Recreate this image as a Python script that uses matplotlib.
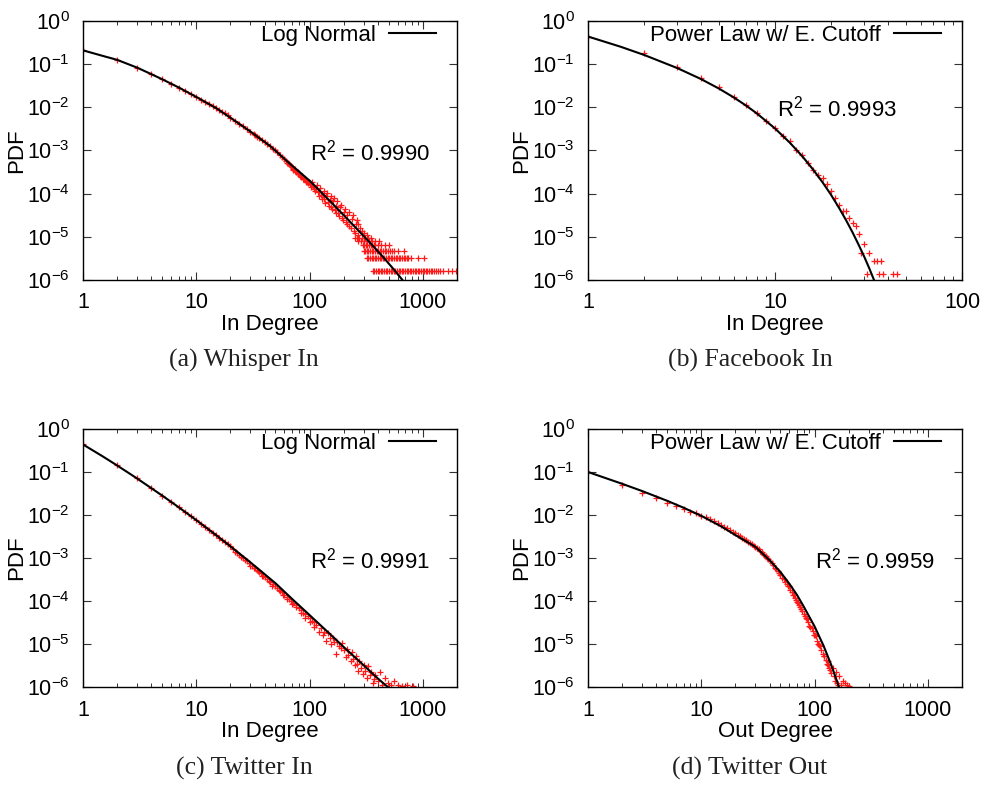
import matplotlib
matplotlib.use("Agg")
import matplotlib.pyplot as plt
from matplotlib.ticker import LogLocator, LogFormatterSciNotation, NullLocator, NullFormatter

plt.rcParams['font.family'] = ['Liberation Sans', 'DejaVu Sans']
plt.rcParams['mathtext.fontset'] = 'custom'
plt.rcParams['mathtext.rm'] = 'Liberation Sans'
plt.rcParams['mathtext.it'] = 'Liberation Sans:italic'
plt.rcParams['mathtext.bf'] = 'Liberation Sans:bold'
plt.rcParams['mathtext.default'] = 'regular'

# ---------------- (a) Whisper In ----------------
a_deg = [1, 2, 3, 4, 5, 6, 7, 8, 9, 10, 11, 12, 13, 14, 15, 16, 17, 18, 19, 20,
         22, 24, 26, 28, 30, 32, 33, 34, 36, 38, 40, 42, 45, 48, 50, 52, 55, 57, 60]
a_pdf = [0.209, 0.126, 0.083, 0.060, 0.0447, 0.0355, 0.0288, 0.024, 0.0204, 0.0174,
         0.0151, 0.0132, 0.0117, 0.0107, 0.00955, 0.0087, 0.0079, 0.0072, 0.0065, 0.00575,
         0.0048, 0.0042, 0.0036, 0.0031, 0.00275, 0.0024, 0.0023, 0.0021, 0.00195, 0.00175,
         0.00158, 0.00145, 0.00126, 0.00108, 0.0010, 0.00092, 0.00079, 0.00072, 0.00065]
a_band_deg = [62, 64, 66, 68, 70, 72, 74, 76, 78, 80, 83, 86, 89, 92, 95, 98, 101, 104, 107, 110,
              114, 118, 122, 126, 130, 135, 140, 145, 150, 155, 160, 166, 172, 178, 185, 192,
              200, 208, 216, 225, 235, 245, 255, 265,
              63, 67, 71, 75, 79, 84, 88, 93, 97, 102, 106, 112, 116, 120, 124, 128, 133, 138,
              143, 148, 153, 158, 163, 170, 176, 182, 190, 197, 205, 213, 221, 230, 240, 250,
              260, 270, 280, 290, 300, 320]
a_band_pdf = [5.6e-4, 5.0e-4, 4.9e-4, 4.3e-4, 4.2e-4, 3.6e-4, 3.7e-4, 3.2e-4, 3.2e-4, 3.0e-4,
              2.6e-4, 2.6e-4, 2.2e-4, 2.2e-4, 1.9e-4, 1.9e-4, 1.66e-4, 1.58e-4, 1.5e-4, 1.26e-4,
              1.3e-4, 1.07e-4, 1.1e-4, 9.1e-5, 9.5e-5, 7.6e-5, 8.9e-5, 6.3e-5, 7.2e-5, 5.0e-5,
              6.6e-5, 4.2e-5, 5.2e-5, 3.5e-5, 5.0e-5, 2.8e-5, 3.8e-5, 2.2e-5, 3.2e-5, 1.78e-5,
              2.6e-5, 1.4e-5, 2.0e-5, 1.12e-5,
              5.2e-4, 4.5e-4, 3.8e-4, 3.35e-4, 2.9e-4, 2.45e-4, 2.2e-4, 1.9e-4, 1.72e-4, 1.45e-4,
              1.82e-4, 1.15e-4, 1.58e-4, 9.0e-5, 1.38e-4, 7.6e-5, 1.17e-4, 6.0e-5, 1.05e-4, 5.2e-5,
              8.9e-5, 4.4e-5, 7.9e-5, 3.5e-5, 6.6e-5, 3.0e-5, 5.6e-5, 2.4e-5, 4.5e-5, 2.0e-5,
              3.8e-5, 1.58e-5, 3.2e-5, 1.26e-5, 2.5e-5, 2.0e-5, 1.6e-5, 1.4e-5, 1.2e-5, 1.1e-5]
# quantised tail rows (count = 1, 2, 3, 4, 5, 6 nodes)
a_tail_levels = [1.58e-6, 3.16e-6, 4.74e-6, 6.3e-6, 7.9e-6, 9.5e-6]
a_tail_degs = [
    [360, 372, 385, 398, 410, 425, 440, 455, 470, 485, 500, 518, 535, 552, 570, 590, 610, 630,
     650, 672, 695, 718, 742, 767, 792, 818, 845, 873, 902, 932, 963, 995, 1028, 1062, 1097,
     1133, 1170, 1210, 1250, 1300, 1350, 1430, 1520, 1650, 1800, 1960],
    [320, 330, 341, 352, 364, 376, 388, 401, 414, 428, 442, 457, 472, 488, 504, 521, 538, 556,
     574, 593, 612, 632, 653, 675, 697, 720, 745, 783, 900, 1020],
    [300, 310, 320, 331, 342, 353, 365, 377, 390, 403, 416, 430, 445, 460, 476, 492, 510, 530,
     555, 597, 680],
    [294, 303, 313, 323, 334, 345, 356, 368, 380, 400, 425, 460, 500],
    [270, 285, 300, 318, 335, 355, 380, 410],
    [250, 262, 275, 290, 310, 330, 350],
]
a_fit_x = [1, 1.5, 2, 3, 4, 5, 7, 10, 15, 20, 30, 45, 70, 100, 150, 220, 340, 450, 560, 660]
a_fit_y = [0.209, 0.155, 0.126, 0.0832, 0.0589, 0.0447, 0.0288, 0.0174, 0.00955, 0.00575,
           0.00275, 0.00126, 4.47e-4, 2.0e-4, 6.9e-5, 2.45e-5, 7.4e-6, 3.3e-6, 1.7e-6, 1.0e-6]

# ---------------- (b) Facebook In ----------------
b_deg = [1, 2, 3, 4, 5, 6, 7, 8, 9, 10, 11, 12, 13, 14, 15, 16, 17, 18, 19, 20,
         21, 22, 23, 24, 25, 26, 27, 28, 29, 30, 31, 32, 34, 35, 36, 37, 38, 43, 45]
b_pdf = [0.43, 0.18, 0.087, 0.049, 0.029, 0.0178, 0.0112, 0.0072, 0.0049, 0.00324,
         0.00219, 0.00162, 0.00105, 7.9e-4, 5.1e-4, 3.5e-4, 2.75e-4, 2.3e-4, 1.66e-4, 1.15e-4,
         8.1e-5, 5.4e-5, 4.0e-5, 4.0e-5, 2.7e-5, 2.1e-5, 1.74e-5, 1.15e-5, 4.14e-6, 6.9e-6,
         1.38e-6, 4.14e-6, 2.76e-6, 2.76e-6, 1.38e-6, 2.76e-6, 1.38e-6, 1.38e-6, 1.38e-6]
b_fit_x = [1, 1.5, 2, 3, 4, 5, 6, 7, 8, 10, 12, 14, 16, 18, 20, 22, 24, 26, 28, 30, 32, 34]
b_fit_y = [0.437, 0.252, 0.163, 0.0813, 0.0457, 0.0274, 0.0171, 0.011, 0.00721, 0.00324,
           0.00152, 7.34e-4, 3.6e-4, 1.81e-4, 9.2e-5, 4.69e-5, 2.42e-5, 1.26e-5, 6.56e-6,
           3.47e-6, 1.82e-6, 9.5e-7]

# ---------------- (c) Twitter In ----------------
c_deg = [1, 2, 3, 4, 5, 6, 7, 8, 9, 10, 12, 14, 16, 18, 20, 22, 25, 28, 32, 36, 40, 45, 50,
         55, 60, 66, 72, 80, 88, 96, 105, 115, 125, 135, 150, 165, 180, 200, 220, 240, 260,
         285, 310, 340, 370,
         30, 38, 47, 58, 63, 70, 76, 84, 92, 100, 110, 120, 130, 140, 145, 155, 160, 170, 175,
         190, 195, 210, 215, 230, 235, 250, 255, 270, 275, 295, 300, 320, 330, 350, 360, 380,
         400, 420, 440, 460, 490, 520, 560, 600, 650, 720, 815,
         11, 13, 15, 17, 19, 21, 23, 24, 26, 27, 29, 31, 33, 34, 35, 37, 39, 42, 44, 48, 52,
         54, 57, 63, 69, 76, 84, 92, 100, 110]
c_pdf = [0.44, 0.142, 0.0708, 0.0425, 0.0283, 0.0202, 0.0151, 0.0117, 0.00933, 0.00759,
         0.0053, 0.00389, 0.00297, 0.00233, 0.00187, 0.00141, 0.00107, 8.3e-4, 6.0e-4, 4.7e-4,
         3.6e-4, 2.75e-4, 2.2e-4, 1.74e-4, 1.41e-4, 1.12e-4, 8.9e-5, 6.9e-5, 5.4e-5, 4.4e-5,
         3.5e-5, 2.8e-5, 2.3e-5, 1.9e-5, 1.4e-5, 1.12e-5, 8.9e-6, 7.1e-6, 5.6e-6, 4.5e-6,
         3.5e-6, 2.8e-6, 2.4e-6, 1.9e-6, 1.5e-6,
         6.6e-4, 3.8e-4, 2.2e-4, 1.38e-4, 1.12e-4, 8.3e-5, 7.1e-5, 5.2e-5, 4.0e-5, 3.3e-5,
         2.5e-5, 1.9e-5, 1.58e-5, 1.2e-5, 1.78e-5, 1.0e-5, 1.4e-5, 5.9e-6, 1.12e-5, 7.9e-6,
         1.05e-5, 5.0e-6, 7.6e-6, 4.0e-6, 6.6e-6, 3.2e-6, 5.2e-6, 2.4e-6, 4.0e-6, 2.0e-6,
         3.3e-6, 1.58e-6, 3.0e-6, 2.2e-6, 1.26e-6, 1.9e-6, 1.41e-6, 2.2e-6, 1.12e-6, 1.58e-6,
         1.26e-6, 1.12e-6, 1.41e-6, 1.12e-6, 1.07e-6, 1.12e-6, 1.07e-6,
         0.00628, 0.00451, 0.00338, 0.00262, 0.00208, 0.00158, 0.00129, 0.00117, 9.8e-4,
         8.9e-4, 7.6e-4, 6.6e-4, 5.75e-4, 5.4e-4, 5.0e-4, 4.5e-4, 3.9e-4, 3.3e-4, 2.95e-4,
         2.45e-4, 2.0e-4, 1.82e-4, 1.58e-4, 1.26e-4, 1.0e-4, 7.9e-5, 6.2e-5, 5.0e-5, 4.0e-5,
         3.2e-5]
c_fit_x = [1, 1.5, 2, 3, 5, 7, 10, 15, 20, 30, 50, 70, 100, 150, 200, 300, 400, 490]
c_fit_y = [0.437, 0.229, 0.142, 0.0708, 0.0283, 0.0151, 0.00759, 0.00338, 0.00187, 7.94e-4,
           2.59e-4, 1.12e-4, 4.7e-5, 1.74e-5, 8.5e-6, 3.2e-6, 1.58e-6, 1.0e-6]

# ---------------- (d) Twitter Out ----------------
d_deg = [1, 2, 3, 4, 5, 6, 7, 8, 9, 10, 11, 12, 13, 14, 15, 16, 17, 18, 19, 20, 22, 24, 26,
         28, 30, 32, 34, 36, 38, 40, 43, 46, 49, 52, 55, 58, 61, 64, 67, 70, 73, 76, 80, 84,
         88, 92, 96, 100, 105, 110, 115, 120, 125, 130, 135, 140, 150, 160,
         50, 54, 57, 60, 63, 66, 69, 72, 75, 78, 82, 86, 90, 94, 98, 102, 108, 112, 118, 122,
         128, 132, 138, 145, 148, 155, 158, 165, 170, 178, 185, 195, 200,
         21, 23, 25, 27, 29, 31, 33, 35, 37, 39, 42, 45, 48]
d_pdf = [0.1, 0.049, 0.033, 0.025, 0.0195, 0.0162, 0.0135, 0.0118, 0.011, 0.0097, 0.0089,
         0.0079, 0.0071, 0.0065, 0.0059, 0.0054, 0.0049, 0.0045, 0.0041, 0.0038, 0.00324,
         0.00275, 0.0024, 0.00209, 0.00182, 0.00158, 0.00135, 0.00117, 0.001, 8.7e-4, 6.9e-4,
         5.5e-4, 4.4e-4, 3.4e-4, 2.75e-4, 2.2e-4, 1.78e-4, 1.41e-4, 1.15e-4, 9.5e-5, 7.9e-5,
         6.5e-5, 5.0e-5, 4.0e-5, 3.2e-5, 2.5e-5, 2.0e-5, 1.58e-5, 1.2e-5, 9.3e-6, 7.1e-6,
         5.4e-6, 4.2e-6, 3.3e-6, 2.7e-6, 2.1e-6, 1.41e-6, 1.12e-6,
         4.0e-4, 3.2e-4, 2.5e-4, 2.2e-4, 1.66e-4, 1.38e-4, 1.05e-4, 9.1e-5, 7.2e-5, 6.0e-5,
         4.4e-5, 3.8e-5, 2.6e-5, 2.4e-5, 1.66e-5, 1.5e-5, 1.0e-5, 8.9e-6, 6.0e-6, 5.2e-6,
         3.5e-6, 4.0e-6, 2.5e-6, 2.8e-6, 1.78e-6, 2.2e-6, 1.26e-6, 1.78e-6, 1.12e-6, 1.41e-6,
         1.26e-6, 1.12e-6, 1.07e-6,
         0.00347, 0.00295, 0.00257, 0.00224, 0.00195, 0.0017, 0.00145, 0.00126, 0.0011,
         9.3e-4, 7.6e-4, 6.0e-4, 4.9e-4]
d_fit_x = [1, 2, 3, 5, 7, 10, 15, 20, 30, 40, 50, 60, 70, 80, 100, 120, 140, 160, 175]
d_fit_y = [0.1, 0.0532, 0.0361, 0.0214, 0.0147, 0.00955, 0.00543, 0.00341, 0.00182, 8.9e-4,
           4.7e-4, 2.5e-4, 1.38e-4, 7.5e-5, 2.56e-5, 9.1e-6, 3.3e-6, 1.22e-6, 5.9e-7]

# ---------------- text ----------------
fit_labels = ['Log Normal', 'Power Law w/ E. Cutoff', 'Log Normal', 'Power Law w/ E. Cutoff']
r2_values = ['0.9990', '0.9993', '0.9991', '0.9959']
x_labels = ['In Degree', 'In Degree', 'In Degree', 'Out Degree']
captions = ['(a) Whisper In', '(b) Facebook In', '(c) Twitter In', '(d) Twitter Out']
x_ticks_wide = [1, 10, 100, 1000]
x_ticklabels_wide = ['1', '10', '100', '1000']
x_ticks_narrow = [1, 10, 100]
x_ticklabels_narrow = ['1', '10', '100']

fig = plt.figure(figsize=(9.85, 7.85), dpi=100)
W, H = 985.0, 785.0
boxes = [(83, 21, 374, 259), (588, 21, 374, 259), (83, 429, 374, 258), (588, 429, 374, 258)]
axes = [fig.add_axes([l / W, 1 - (t + h) / H, w / W, h / H]) for (l, t, w, h) in boxes]

FS = 15.5
red = '#ff1a1a'

def style(ax, xmax, ticks, ticklabels):
    ax.set_xscale('log')
    ax.set_yscale('log')
    ax.set_xlim(1, xmax)
    ax.set_ylim(1e-6, 1)
    ax.set_xticks(ticks)
    ax.set_xticklabels(ticklabels)
    ax.xaxis.set_minor_locator(LogLocator(base=10, subs=range(2, 10), numticks=20))
    ax.xaxis.set_minor_formatter(NullFormatter())
    ax.yaxis.set_major_locator(LogLocator(base=10, numticks=10))
    ax.yaxis.set_major_formatter(LogFormatterSciNotation())
    ax.yaxis.set_minor_locator(NullLocator())
    ax.tick_params(which='both', direction='in', top=True, right=True, labelsize=FS)
    ax.tick_params(which='major', length=6, width=0.8, color='#333333')
    ax.tick_params(which='minor', length=3, width=0.7, color='#333333')
    ax.tick_params(axis='x', which='major', pad=9)
    ax.tick_params(axis='y', which='major', pad=9.5)
    for s in ax.spines.values():
        s.set_linewidth(1.0)
    ax.set_ylabel('PDF', fontsize=FS + 0.5)
    ax.yaxis.set_label_coords(-0.15, 0.5)

data = [
    (a_fit_x, a_fit_y),
    (b_fit_x, b_fit_y),
    (c_fit_x, c_fit_y),
    (d_fit_x, d_fit_y),
]

def scatter(ax, xs, ys):
    ax.plot(xs, ys, linestyle='none', marker='+', color=red, markersize=5, mew=0.9, zorder=2)

# (a)
scatter(axes[0], a_deg, a_pdf)
scatter(axes[0], a_band_deg, a_band_pdf)
for lvl, degs in zip(a_tail_levels, a_tail_degs):
    scatter(axes[0], degs, [lvl for _ in degs])
# (b)
scatter(axes[1], b_deg, b_pdf)
# (c)
scatter(axes[2], c_deg, c_pdf)
# (d)
scatter(axes[3], d_deg, d_pdf)

r2_pos = [(0.607, 0.463), (0.5045, 0.633), (0.607, 0.46), (0.607, 0.46)]
for i, ax in enumerate(axes):
    wide = i != 1
    style(ax, 2000 if wide else 100,
          x_ticks_wide if wide else x_ticks_narrow,
          x_ticklabels_wide if wide else x_ticklabels_narrow)
    fx, fy = data[i]
    line, = ax.plot(fx, fy, color='black', lw=1.5, zorder=3, label=fit_labels[i])
    ax.legend(handles=[line], loc='upper right', bbox_to_anchor=(0.976, 1.031),
              frameon=False, markerfirst=False,
              fontsize=FS + 0.5, handlelength=2.1, handletextpad=0.6,
              borderaxespad=0.25, borderpad=0.3)
    ax.set_xlabel(x_labels[i], fontsize=FS + 0.5)
    ax.xaxis.set_label_coords(0.5, -0.13)
    ax.text(r2_pos[i][0], r2_pos[i][1], 'R$^2$ = ' + r2_values[i], transform=ax.transAxes,
            fontsize=FS + 0.5, ha='left', va='baseline')

cap_pos = [(244, 360), (750, 360), (244, 768), (750, 768)]
for (cx, cy), cap in zip(cap_pos, captions):
    fig.text(cx / W, 1 - cy / H, cap, ha='center', va='center', fontsize=18.5,
             family='Liberation Serif', color='#222222')

fig.savefig('out.png', dpi=100)
